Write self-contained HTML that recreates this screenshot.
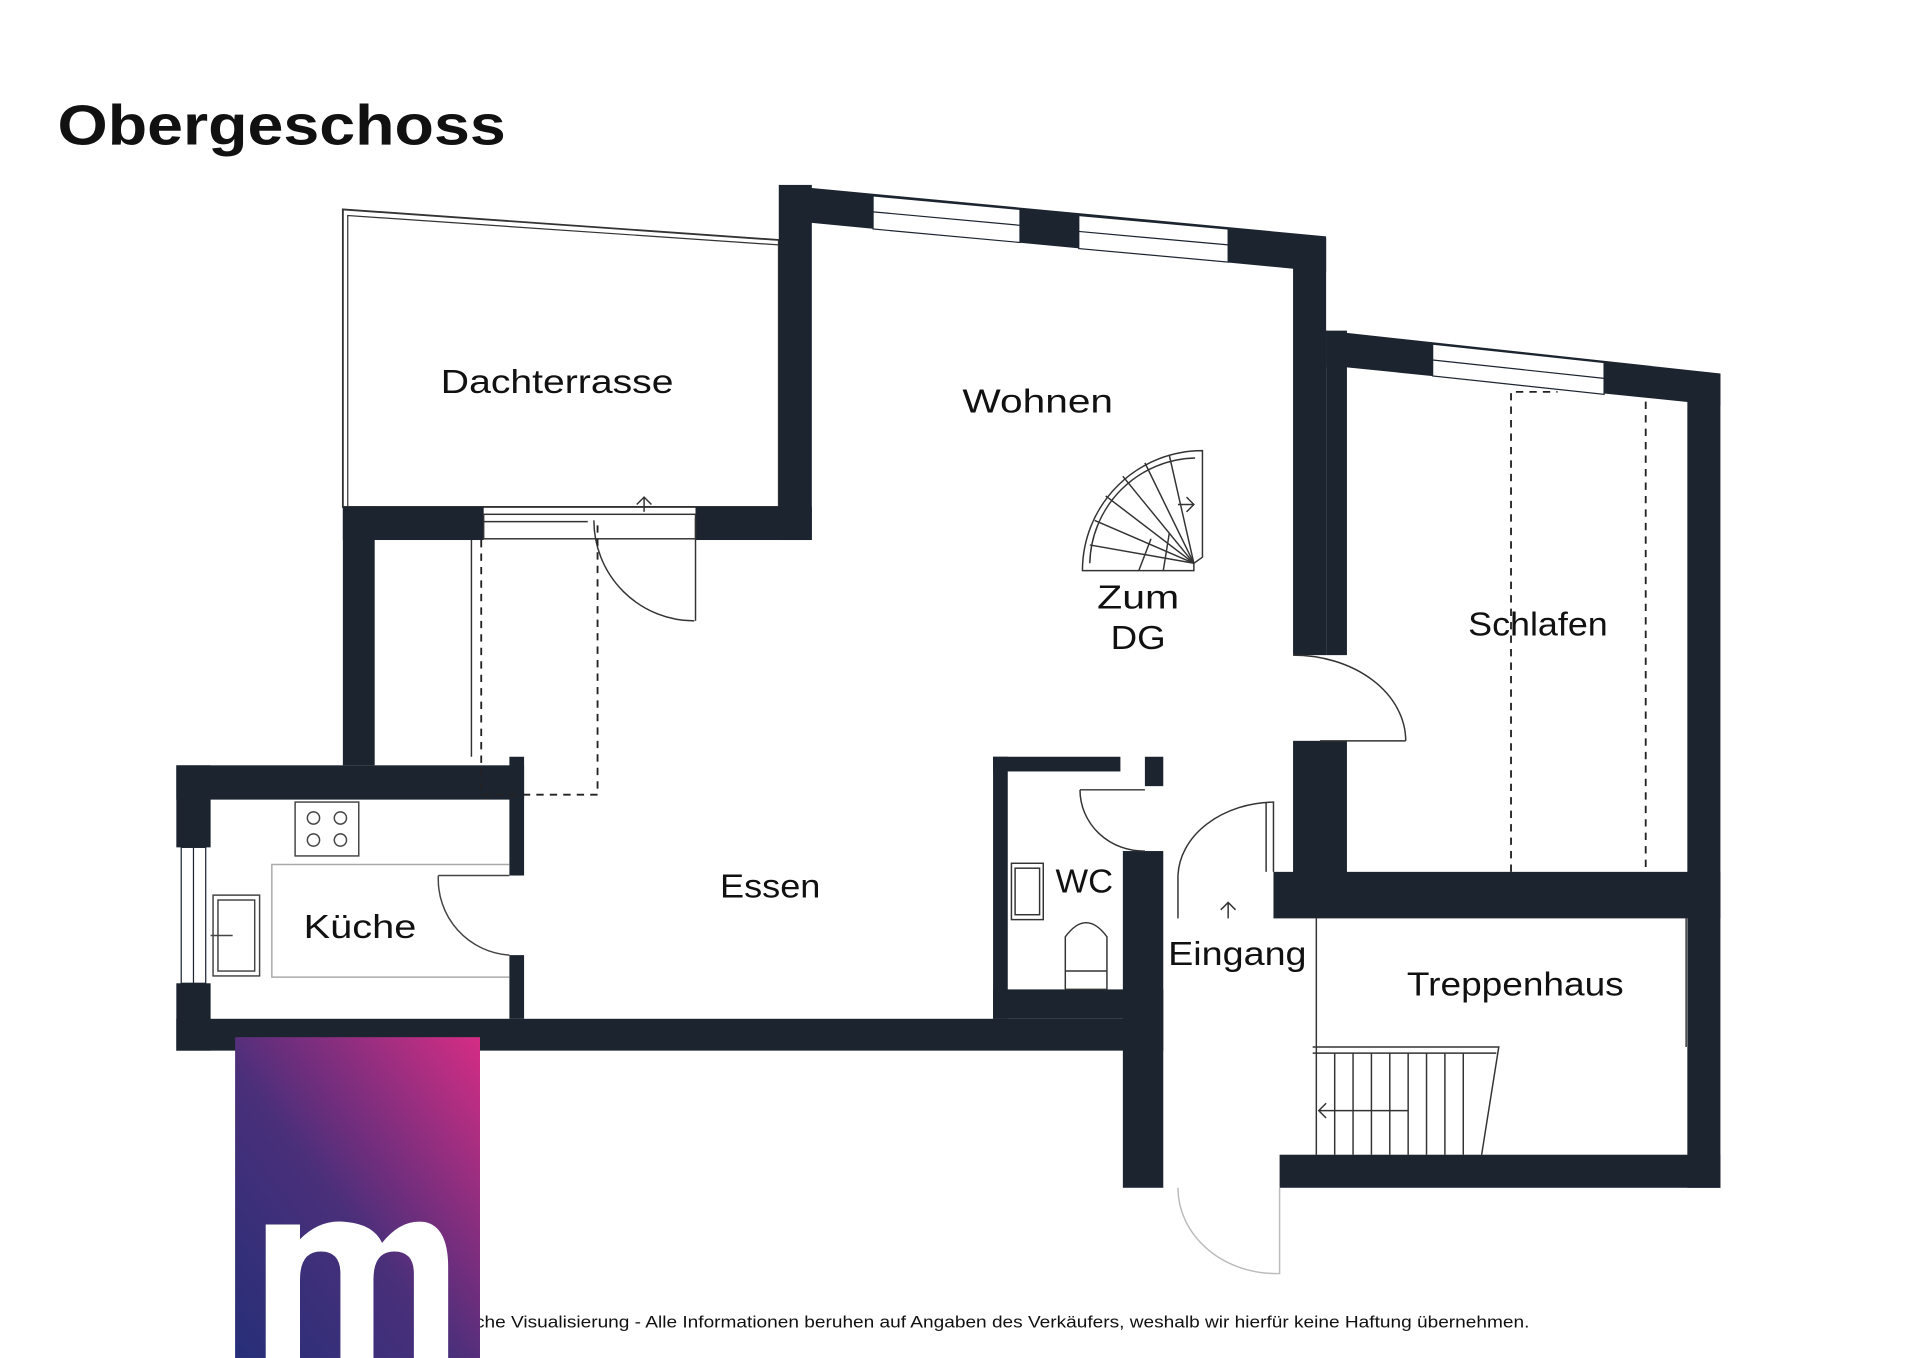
<!DOCTYPE html>
<html><head><meta charset="utf-8"><style>
html,body{margin:0;padding:0;background:#fff;width:1920px;height:1358px;overflow:hidden}
svg{display:block}
text{font-family:"Liberation Sans",sans-serif;fill:#111}
</style></head><body>
<svg width="1920" height="1358" viewBox="0 0 1568 1109" xmlns="http://www.w3.org/2000/svg">
<defs>
<linearGradient id="g" x1="1" y1="0" x2="0" y2="1">
<stop offset="0" stop-color="#d52d84"/><stop offset="0.55" stop-color="#4a2f7a"/><stop offset="1" stop-color="#262f78"/>
</linearGradient>
</defs>
<text x="47" y="118" font-size="46" font-weight="bold" textLength="366" lengthAdjust="spacingAndGlyphs">Obergeschoss</text>

<polygon points="280,171 636,196 636,414 280,414" fill="none" stroke="#333" stroke-width="1.5"/>
<polyline points="284,414 284,176 636,200" fill="none" stroke="#333" stroke-width="1"/>

<g fill="#1c2430">
<polygon points="636,151 1083,193 1083,222 663,182"/>
<rect x="636" y="151" width="27" height="290"/>
<rect x="1056" y="195" width="27" height="340"/>
<polygon points="1083,270 1405,305 1405,331 1100,300 1083,300"/>
<rect x="1083" y="270" width="17" height="265"/>
<rect x="1378" y="305" width="27" height="665"/>
<rect x="1056" y="605" width="44" height="135"/>
<rect x="1040" y="712" width="365" height="38"/>
<rect x="1045" y="943" width="360" height="27"/>
<rect x="280" y="414" width="115" height="27"/>
<rect x="568" y="414" width="95" height="27"/>
<rect x="280" y="414" width="26" height="211"/>
<rect x="144" y="625" width="284" height="28"/>
<rect x="144" y="625" width="28" height="67"/>
<rect x="144" y="803" width="28" height="55"/>
<rect x="416" y="618" width="12" height="97"/>
<rect x="416" y="780" width="12" height="52"/>
<rect x="144" y="832" width="806" height="26"/>
<rect x="811" y="618" width="12" height="214"/>
<rect x="811" y="618" width="104" height="12"/>
<rect x="935" y="618" width="15" height="24"/>
<rect x="917" y="695" width="33" height="275"/>
<rect x="811" y="808" width="139" height="24"/>
</g>

<g fill="#fff" stroke="#1c2430" stroke-width="1">
<polygon points="713,160 833,171 833,198 713,187"/>
<polygon points="881,176 1003,187 1003,214 881,203"/>
<polygon points="1170,281 1310,296 1310,322 1170,307"/>
<rect x="148" y="692" width="20" height="111"/>
</g>
<g stroke="#1c2430" stroke-width="1">
<line x1="713" y1="173" x2="833" y2="184"/>
<line x1="881" y1="189" x2="1003" y2="200"/>
<line x1="1170" y1="294" x2="1310" y2="309"/>
<line x1="158" y1="692" x2="158" y2="803"/>
</g>

<g fill="none" stroke="#333" stroke-width="1.2">
<rect x="395" y="420" width="173" height="20"/>
<line x1="395" y1="426" x2="480" y2="426"/>
<line x1="568" y1="423" x2="568" y2="507"/>
<path d="M485,425 A82,82 0 0 0 567,507"/>
<line x1="526" y1="418" x2="526" y2="406"/><polyline points="520,412 526,406 532,412"/>
<line x1="385" y1="441" x2="385" y2="618"/>
</g>
<polyline points="393,441 393,649 488,649 488,425" fill="none" stroke="#222" stroke-width="1.5" stroke-dasharray="6,5"/>

<g fill="none" stroke="#444" stroke-width="1.2">
<rect x="241" y="655" width="52" height="44"/>
<circle cx="256" cy="668" r="5"/><circle cx="278" cy="668" r="5"/>
<circle cx="256" cy="686" r="5"/><circle cx="278" cy="686" r="5"/>
<polyline points="416,706 222,706 222,798 416,798" stroke="#aaa"/>
<rect x="174" y="731" width="38" height="66"/><rect x="178" y="735" width="30" height="58"/>
<line x1="172" y1="764" x2="190" y2="764"/>
<line x1="358" y1="715" x2="416" y2="715"/>
<path d="M358,715 A62,62 0 0 0 416,780"/>
</g>

<g fill="none" stroke="#222" stroke-width="1.5" stroke-dasharray="6,5">
<polyline points="1234,712 1234,320 1272,320"/>
<line x1="1344" y1="328" x2="1344" y2="712"/>
</g>
<g fill="none" stroke="#333" stroke-width="1.2">
<line x1="1078" y1="605" x2="1148" y2="605"/>
<path d="M1056,535 A92,70 0 0 1 1148,605"/>
<line x1="882" y1="645" x2="935" y2="645"/>
<path d="M882,645 A52,50 0 0 0 935,695"/>
<rect x="826" y="705" width="26" height="46"/><rect x="829" y="709" width="20" height="38"/>
<path d="M870,808 L870,765 Q887,742 904,765 L904,808 Z"/>
<line x1="870" y1="793" x2="904" y2="793"/>
<path d="M962,750 L962,715 A80,62 0 0 1 1040,655 L1040,712"/>
<line x1="1034" y1="655" x2="1034" y2="712"/>
<line x1="1003" y1="750" x2="1003" y2="737"/><polyline points="997,743 1003,737 1009,743"/>
<path d="M962,970 A80,70 0 0 0 1045,1040 L1045,970" stroke="#bbb"/>
</g>

<g fill="none" stroke="#333" stroke-width="1.2">
<path d="M884,465 A98,98 0 0 1 982,368 L982,455 L975,460 L975,466 L884,466 Z"/>
<path d="M890,460 A88,88 0 0 1 976,374"/>
<line x1="975" y1="460" x2="890" y2="445"/>
<line x1="975" y1="460" x2="894" y2="425"/>
<line x1="975" y1="460" x2="903" y2="405"/>
<line x1="975" y1="460" x2="917" y2="389"/>
<line x1="975" y1="460" x2="935" y2="378"/>
<line x1="975" y1="460" x2="955" y2="372"/>
<line x1="930" y1="466" x2="940" y2="440"/>
<line x1="950" y1="466" x2="955" y2="435"/>
<line x1="962" y1="412" x2="975" y2="412"/><polyline points="969,406 975,412 969,418"/>
</g>

<g fill="none" stroke="#333" stroke-width="1.2">
<line x1="1075" y1="750" x2="1075" y2="943"/>
<polyline points="1072,855 1224,855 1210,943"/>
<line x1="1072" y1="860" x2="1222" y2="860"/>
<line x1="1377" y1="750" x2="1377" y2="855"/>
<line x1="1090" y1="860" x2="1090" y2="943"/><line x1="1105" y1="860" x2="1105" y2="943"/>
<line x1="1120" y1="860" x2="1120" y2="943"/><line x1="1135" y1="860" x2="1135" y2="943"/>
<line x1="1150" y1="860" x2="1150" y2="943"/><line x1="1165" y1="860" x2="1165" y2="943"/>
<line x1="1180" y1="860" x2="1180" y2="943"/><line x1="1195" y1="860" x2="1195" y2="943"/>
<line x1="1077" y1="907" x2="1150" y2="907"/><polyline points="1083,901 1077,907 1083,913"/>
</g>

<g font-size="27" lengthAdjust="spacingAndGlyphs">
<text x="360" y="321" textLength="190" lengthAdjust="spacingAndGlyphs">Dachterrasse</text>
<text x="786" y="337" textLength="123" lengthAdjust="spacingAndGlyphs">Wohnen</text>
<text x="896" y="497" textLength="67" lengthAdjust="spacingAndGlyphs">Zum</text>
<text x="907" y="530" textLength="45" lengthAdjust="spacingAndGlyphs">DG</text>
<text x="1199" y="519" textLength="114" lengthAdjust="spacingAndGlyphs">Schlafen</text>
<text x="588" y="733" textLength="82" lengthAdjust="spacingAndGlyphs">Essen</text>
<text x="862" y="729" textLength="47" lengthAdjust="spacingAndGlyphs">WC</text>
<text x="248" y="766" textLength="92" lengthAdjust="spacingAndGlyphs">Küche</text>
<text x="954" y="788" textLength="113" lengthAdjust="spacingAndGlyphs">Eingang</text>
<text x="1149" y="813" textLength="177" lengthAdjust="spacingAndGlyphs">Treppenhaus</text>
</g>
<text x="310" y="1084" font-size="13.5" fill="#222" textLength="939" lengthAdjust="spacingAndGlyphs">Unverbindliche Visualisierung - Alle Informationen beruhen auf Angaben des Verkäufers, weshalb wir hierfür keine Haftung übernehmen.</text>

<rect x="192" y="847" width="200" height="262" fill="url(#g)"/>
<path d="M217,1109 L217,1000 L245,1000 L245,1012 Q262,995 283,998 Q305,1000 312,1015 Q328,995 347,998 Q366,1002 366,1035 L366,1109 L338,1109 L338,1040 Q338,1022 322,1022 Q305,1022 305,1045 L305,1109 L278,1109 L278,1040 Q278,1022 262,1022 Q245,1022 245,1045 L245,1109 Z" fill="#fff"/>
</svg>
</body></html>
